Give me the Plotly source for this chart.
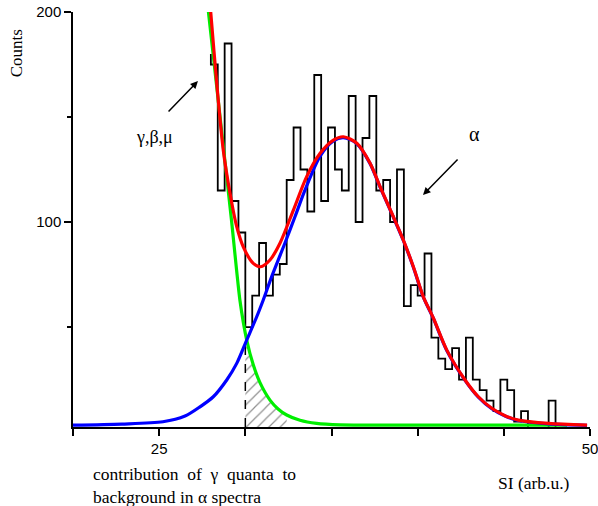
import plotly.graph_objects as go

# ---------------- data ----------------
# histogram (bin left edges, width 0.4) and counts
bin_left = [28.0, 28.4, 28.8, 29.2, 29.6, 30.0, 30.4, 30.8, 31.2, 31.6,
            32.0, 32.4, 32.8, 33.2, 33.6, 34.0, 34.4, 34.8, 35.2, 35.6,
            36.0, 36.4, 36.8, 37.2, 37.6, 38.0, 38.4, 38.8, 39.2, 39.6,
            40.0, 40.4, 40.8, 41.2, 41.6, 42.0, 42.4, 42.8, 43.2, 43.6,
            44.0, 44.4, 44.8, 45.2, 45.6, 46.0, 46.4, 46.8, 47.2, 47.6]
bin_width = 0.4
counts = [175, 115, 185, 110, 95, 50, 65, 90, 65, 75,
          80, 120, 145, 125, 105, 170, 110, 145, 125, 115,
          160, 100, 140, 160, 115, 120, 100, 125, 60, 70,
          65, 85, 45, 35, 30, 40, 25, 45, 25, 20,
          15, 10, 25, 20, 5, 10, 0, 0, 0, 15]
hist_start_level = 180

# gamma/beta/mu background (green)
green_x = [27.72, 27.86, 28.30, 28.76, 29.20, 29.69, 30.08, 30.46, 30.85, 31.43,
           31.90, 32.40, 33.17, 34.14, 35.50, 37.00, 48.67]
green_y = [210.8, 200.0, 167.4, 133.2, 100.6, 62.5, 43.8, 32.0, 23.5, 15.2,
           11.0, 8.1, 5.6, 4.1, 3.4, 3.3, 3.3]

# alpha component (blue)
blue_x = [20.0, 22.84, 25.22, 26.50, 27.37, 28.14, 28.92, 29.50, 30.08, 30.66,
          31.04, 31.53, 32.30, 32.88, 33.46, 34.34, 35.11, 35.69, 36.47, 37.24,
          37.82, 38.59, 39.17, 39.75, 40.33, 40.91, 41.69, 42.75, 43.52, 44.30,
          45.07, 45.84, 47.59, 49.83]
blue_y = [3.3, 3.8, 4.9, 7.6, 12.0, 16.8, 24.8, 32.7, 43.8, 54.9,
          62.9, 74.0, 90.0, 102.5, 115.2, 131.4, 138.6, 140.2, 137.3, 127.8,
          116.6, 102.3, 91.2, 78.5, 64.2, 54.1, 38.8, 24.6, 16.6, 11.1,
          7.6, 5.5, 3.9, 3.2]

# total fit (red)
red_x = [27.89, 27.99, 28.34, 28.72, 29.11, 29.50, 29.88, 30.46, 30.88, 31.43,
         32.01, 32.79, 33.56, 34.34, 35.11, 35.69, 36.47, 37.24, 37.82, 38.59,
         39.17, 39.75, 40.33, 40.91, 41.69, 42.75, 43.52, 44.30, 45.07, 45.84,
         47.59, 49.83]
red_y = [209.5, 200.1, 166.0, 134.3, 113.7, 97.8, 88.2, 80.3, 78.7, 81.9,
         89.9, 105.7, 121.6, 132.7, 139.0, 140.6, 137.5, 128.0, 116.8, 102.5,
         91.4, 78.7, 64.4, 54.3, 39.0, 24.8, 16.8, 11.3, 7.8, 5.7,
         4.1, 3.3]

# hatched region: gamma contribution under alpha peak
hatch_x = [30.0, 30.08, 30.46, 30.85, 31.43, 31.90, 32.40, 32.40, 30.0]
hatch_y = [46.0, 43.8, 32.0, 23.5, 15.2, 11.0, 8.1, 2.4, 2.4]
cut_x = 30.0

x_ticks = [20, 25, 30, 35, 40, 45, 50]
x_ticktext = ["", "25", "", "", "", "", "50"]
y_ticks = [100, 200]
y_minor = [50, 150]
y_range = [2.4, 200]
x_range = [20, 50]

# ---------------- build histogram outline ----------------
hx = [bin_left[0]]
hy = [hist_start_level]
for left, c in zip(bin_left, counts):
    hx += [left, left + bin_width]
    hy += [c, c]
hx.append(bin_left[-1] + bin_width)
hy.append(0)

serif = "Liberation Serif"
sans = "Liberation Sans"

fig = go.Figure()

fig.add_trace(go.Scatter(x=hatch_x, y=hatch_y, mode="lines", fill="toself",
                         line=dict(width=0, color="rgba(0,0,0,0)"),
                         fillcolor="rgba(0,0,0,0)",
                         fillpattern=dict(shape="/", size=8, solidity=0.15,
                                          fgcolor="#222222", bgcolor="rgba(0,0,0,0)"),
                         hoverinfo="skip", showlegend=False))

fig.add_trace(go.Scatter(x=hx, y=hy, mode="lines",
                         line=dict(color="black", width=1.8),
                         showlegend=False))

fig.add_trace(go.Scatter(x=[cut_x, cut_x], y=[y_range[0], 44], mode="lines",
                         line=dict(color="black", width=1.5, dash="dash"),
                         showlegend=False))

fig.add_trace(go.Scatter(x=green_x, y=green_y, mode="lines",
                         line=dict(color="#00ee00", width=3.2, shape="spline", smoothing=0.6),
                         showlegend=False))
fig.add_trace(go.Scatter(x=blue_x, y=blue_y, mode="lines",
                         line=dict(color="#0000ff", width=3.2, shape="spline", smoothing=0.8),
                         showlegend=False))
fig.add_trace(go.Scatter(x=red_x, y=red_y, mode="lines",
                         line=dict(color="#ff0000", width=3.2, shape="spline", smoothing=0.8),
                         showlegend=False))

annotations = [
    # arrows
    dict(x=27.25, y=167.1, ax=25.46, ay=151.9, xref="x", yref="y", axref="x", ayref="y",
         text="", showarrow=True, arrowhead=2, arrowsize=1, arrowwidth=1.5, arrowcolor="black"),
    dict(x=40.31, y=112.9, ax=42.40, ay=130.5, xref="x", yref="y", axref="x", ayref="y",
         text="", showarrow=True, arrowhead=2, arrowsize=1, arrowwidth=1.5, arrowcolor="black"),
    dict(x=31.03, y=-1.4, ax=29.34, ay=-14.3, xref="x", yref="y", axref="x", ayref="y",
         text="", showarrow=True, arrowhead=2, arrowsize=1, arrowwidth=1.5, arrowcolor="black"),
    # labels
    dict(x=24.70, y=140.5, xref="x", yref="y", text="γ,β,μ", showarrow=False,
         font=dict(family=serif, size=18, color="black")),
    dict(x=43.27, y=141.9, xref="x", yref="y", text="α", showarrow=False,
         font=dict(family=serif, size=20, color="black")),
    dict(x=0.0348, y=-0.113, xref="paper", yref="paper", xanchor="left", yanchor="middle",
         text="contribution\u00a0 of\u00a0 γ\u00a0 quanta\u00a0 to",
         showarrow=False, font=dict(family=serif, size=17.5, color="black")),
    dict(x=0.0348, y=-0.169, xref="paper", yref="paper", xanchor="left", yanchor="middle",
         text="background in α spectra",
         showarrow=False, font=dict(family=serif, size=17.5, color="black")),
    dict(x=0.8917, y=-0.135, xref="paper", yref="paper", xanchor="center", yanchor="middle",
         text="SI (arb.u.)", showarrow=False, font=dict(family=serif, size=17.5, color="black")),
    dict(x=-0.110, y=0.901, xref="paper", yref="paper", xanchor="center", yanchor="middle",
         text="Counts", textangle=-90, showarrow=False,
         font=dict(family=serif, size=17, color="black")),
]

fig.update_layout(
    width=598, height=506,
    margin=dict(l=73, r=8, t=12, b=79),
    paper_bgcolor="white", plot_bgcolor="white",
    showlegend=False,
    annotations=annotations,
    xaxis=dict(range=x_range, tickvals=x_ticks, ticktext=x_ticktext,
               showline=True, linecolor="black", linewidth=1.5,
               ticks="outside", ticklen=7, tickwidth=1.5, tickcolor="black",
               showgrid=False, zeroline=False, ticklabeloverflow="allow",
               automargin=False,
               tickfont=dict(family=sans, size=15, color="black")),
    yaxis=dict(range=y_range, tickvals=y_ticks,
               showline=True, linecolor="black", linewidth=1.5,
               ticks="outside", ticklen=7, tickwidth=1.5, tickcolor="black",
               minor=dict(tickvals=y_minor, ticks="outside", ticklen=4,
                          tickwidth=1.5, tickcolor="black", showgrid=False),
               showgrid=False, zeroline=False, ticklabeloverflow="allow",
               automargin=False,
               tickfont=dict(family=sans, size=15, color="black")),
)

fig.write_html("out.html")
